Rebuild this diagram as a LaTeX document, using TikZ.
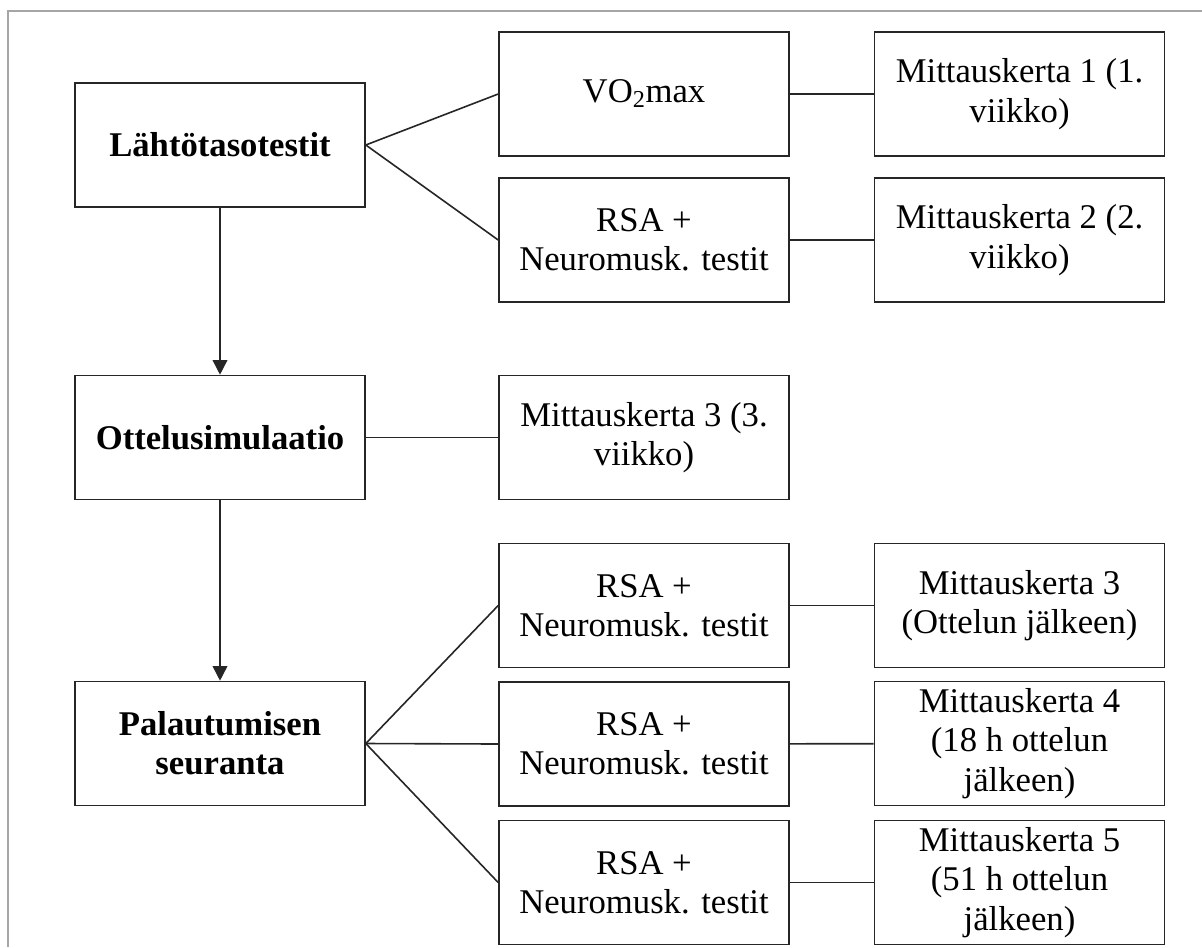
\documentclass[tikz,border=0pt]{standalone}
\usepackage{fontspec}
\setmainfont{Liberation Serif}
\usetikzlibrary{arrows.meta}

\begin{document}
\begin{tikzpicture}[
    x=0.75pt,y=-0.75pt,
    line join=miter,
    textfont/.style={font=\fontsize{26}{29.5}\selectfont},
    box/.style={draw=black!85,line width=1.2pt,textfont,
        minimum width=217.5pt,minimum height=93pt,inner sep=0pt,align=center},
    stagebox/.style={box,font=\fontsize{26}{29.5}\selectfont\bfseries},
    link/.style={draw=black!85,line width=1.2pt},
    flow/.style={link,-{Triangle[width=11pt,length=11pt]}},
    pageframe/.style={draw=gray!70,line width=1.5pt}
]

\useasboundingbox (0,0) rectangle (1202,947);
\draw[pageframe] (8,947) -- (8,11) -- (1202,11);

\node[stagebox] (lahto)  at (220,145)   {Lähtötasotestit};
\node[stagebox] (ottelu) at (220,437.5) {Ottelusimulaatio};
\node[stagebox] (palaut) at (220,743.5) {Palautumisen\\seuranta};

\node[box] (vo)    at (644,94)    {VO\textsubscript{2}max};
\node[box] (rsaA)  at (644,240)   {RSA +\\Neuromusk. testit};
\node[box] (mkviA) at (644,437.5) {Mittauskerta 3 (3.\\viikko)};
\node[box] (rsaB)  at (644,605.5) {RSA +\\Neuromusk. testit};
\node[box] (rsaC)  at (644,744)   {RSA +\\Neuromusk. testit};
\node[box] (rsaD)  at (644,882.5) {RSA +\\Neuromusk. testit};

\node[box] (mkA) at (1019.5,94)    {Mittauskerta 1 (1.\\viikko)};
\node[box] (mkB) at (1019.5,240)   {Mittauskerta 2 (2.\\viikko)};
\node[box] (mkC) at (1019.5,605.5) {Mittauskerta 3\\(Ottelun jälkeen)};
\node[box] (mkD) at (1019.5,743.5) {Mittauskerta 4\\(18 h ottelun\\jälkeen)};
\node[box] (mkE) at (1019.5,882.5) {Mittauskerta 5\\(51 h ottelun\\jälkeen)};

\draw[flow] (lahto) -- (ottelu);
\draw[flow] (ottelu) -- (palaut);

\draw[link] (lahto.east) -- (vo.west);
\draw[link] (lahto.east) -- (rsaA.west);
\draw[link] (ottelu) -- (mkviA);
\foreach \R in {rsaB,rsaC,rsaD}
    \draw[link] (palaut.east) -- (\R.west);

\draw[link] (vo) -- (mkA);
\draw[link] (rsaA) -- (mkB);
\draw[link] (rsaB) -- (mkC);
\draw[link] (rsaC) -- (mkD);
\draw[link] (rsaD) -- (mkE);

\end{tikzpicture}
\end{document}
